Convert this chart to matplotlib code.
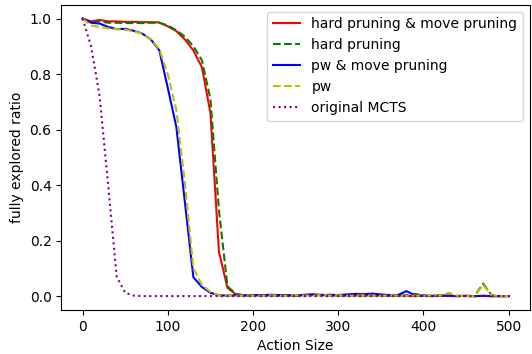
import numpy as np
import matplotlib
matplotlib.use("Agg")
import matplotlib.pyplot as plt

action_size = list(range(0, 510, 10))  # 0..500

hard_move = [1.0, 0.99, 0.995, 0.99, 0.99, 0.988, 0.988, 0.987, 0.987, 0.986,
             0.972, 0.955, 0.925, 0.885, 0.825, 0.66, 0.16, 0.03, 0.006, 0.003,
             0.004, 0.002, 0.003, 0.001, 0.003, 0.002, 0.004, 0.006, 0.005, 0.003,
             0.002, 0.001, 0.003, 0.002, 0.004, 0.002, 0.001, 0.002, 0.001, 0.0,
             0.001, 0.0, 0.002, 0.001, 0.0, 0.001, 0.0, 0.001, 0.0, 0.0, 0.0]

hard = [1.0, 0.985, 0.99, 0.985, 0.985, 0.984, 0.984, 0.984, 0.985, 0.985,
        0.975, 0.958, 0.935, 0.9, 0.85, 0.71, 0.31, 0.035, 0.008, 0.003,
        0.002, 0.003, 0.002, 0.004, 0.003, 0.002, 0.005, 0.003, 0.004, 0.002,
        0.003, 0.002, 0.001, 0.003, 0.002, 0.001, 0.002, 0.001, 0.003, 0.008,
        0.002, 0.001, 0.003, 0.002, 0.001, 0.0, 0.0, 0.045, 0.003, 0.0, 0.0]

pw_move = [1.0, 0.985, 0.982, 0.97, 0.962, 0.963, 0.956, 0.946, 0.925, 0.886,
           0.75, 0.61, 0.34, 0.068, 0.033, 0.012, 0.003, 0.002, 0.003, 0.002,
           0.004, 0.003, 0.005, 0.004, 0.003, 0.002, 0.004, 0.006, 0.003, 0.005,
           0.004, 0.006, 0.008, 0.007, 0.009, 0.006, 0.004, 0.004, 0.018, 0.003,
           0.002, 0.001, 0.002, 0.001, 0.0, 0.001, 0.0, 0.001, 0.0, 0.0, 0.0]

pw = [1.0, 0.975, 0.97, 0.965, 0.962, 0.96, 0.955, 0.945, 0.925, 0.89,
      0.80, 0.67, 0.41, 0.10, 0.04, 0.015, 0.003, 0.002, 0.001, 0.003,
      0.002, 0.001, 0.003, 0.002, 0.001, 0.003, 0.002, 0.001, 0.004, 0.002,
      0.003, 0.001, 0.002, 0.003, 0.002, 0.001, 0.003, 0.002, 0.001, 0.002,
      0.001, 0.003, 0.002, 0.012, 0.001, 0.0, 0.0, 0.04, 0.003, 0.0, 0.0]

original = [1.0, 0.9, 0.72, 0.40, 0.07, 0.012, 0.002, 0.0, 0.0, 0.0,
            0.0, 0.0, 0.0, 0.0, 0.0, 0.0, 0.0, 0.0, 0.0, 0.0,
            0.0, 0.0, 0.0, 0.0, 0.0, 0.0, 0.0, 0.0, 0.0, 0.0,
            0.0, 0.0, 0.0, 0.0, 0.0, 0.0, 0.0, 0.0, 0.0, 0.0,
            0.0, 0.0, 0.0, 0.0, 0.0, 0.0, 0.0, 0.0, 0.0, 0.0, 0.0]

labels = ["hard pruning & move pruning", "hard pruning", "pw & move pruning",
          "pw", "original MCTS"]

fig = plt.figure(figsize=(5.32, 3.54), dpi=100)
ax = fig.add_axes([0.1152, 0.1243, 0.8810, 0.8624])

ax.plot(action_size, hard_move, color="r", linestyle="-", lw=1.5, label=labels[0])
ax.plot(action_size, hard, color="g", linestyle="--", lw=1.5, label=labels[1])
ax.plot(action_size, pw_move, color="b", linestyle="-", lw=1.5, label=labels[2])
ax.plot(action_size, pw, color="y", linestyle="--", lw=1.5, label=labels[3])
ax.plot(action_size, original, color="purple", linestyle=":", lw=1.5, label=labels[4])

ax.set_xlabel("Action Size")
ax.set_ylabel("fully explored ratio")
ax.set_xticks([0, 100, 200, 300, 400, 500])
ax.set_yticks([0.0, 0.2, 0.4, 0.6, 0.8, 1.0])
ax.legend(loc="upper right")

fig.savefig("out.png", dpi=100)
